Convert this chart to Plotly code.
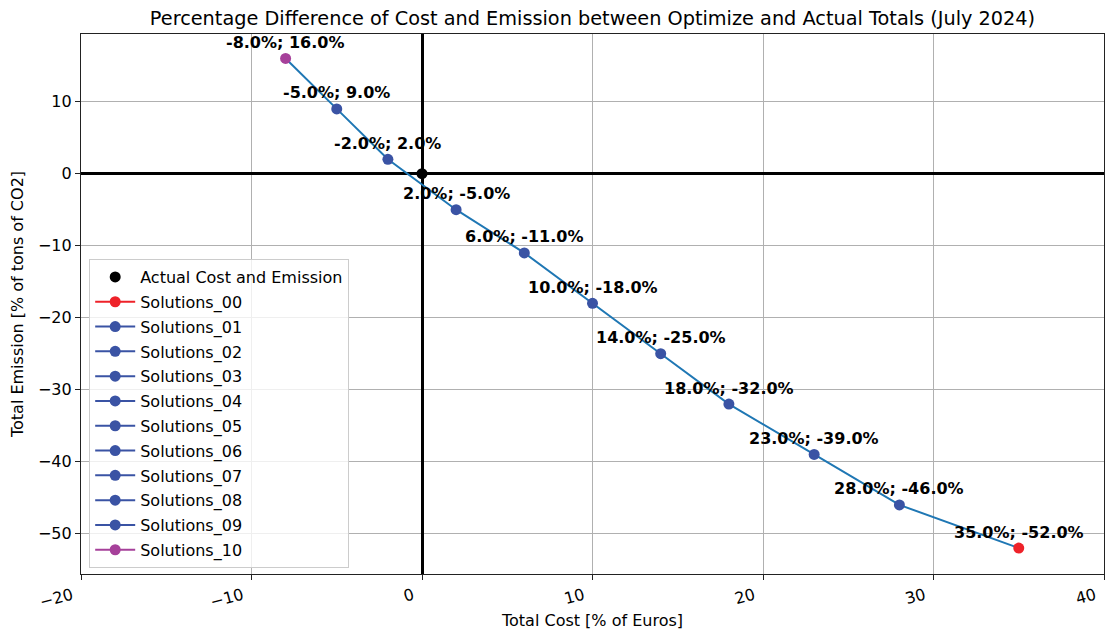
import plotly.graph_objects as go

# Data
solution_names = ["Solutions_00", "Solutions_01", "Solutions_02", "Solutions_03", "Solutions_04",
                  "Solutions_05", "Solutions_06", "Solutions_07", "Solutions_08", "Solutions_09",
                  "Solutions_10"]
cost_pct = [35.0, 28.0, 23.0, 18.0, 14.0, 10.0, 6.0, 2.0, -2.0, -5.0, -8.0]
emission_pct = [-52.0, -46.0, -39.0, -32.0, -25.0, -18.0, -11.0, -5.0, 2.0, 9.0, 16.0]
actual_cost = [0.0]
actual_emission = [0.0]

RED = "#ee2229"
BLUE = "#3a53a4"
PURPLE = "#a6409a"
colors = [RED] + [BLUE] * 9 + [PURPLE]

fig = go.Figure()

# connecting line
fig.add_trace(go.Scatter(x=cost_pct, y=emission_pct, mode="lines",
                         line=dict(color="#1f77b4", width=2), showlegend=False,
                         hoverinfo="skip"))

# actual point
fig.add_trace(go.Scatter(x=actual_cost, y=actual_emission, mode="markers",
                         marker=dict(color="black", size=11),
                         name="Actual Cost and Emission", legendgroup="a"))

for i, name in enumerate(solution_names):
    fig.add_trace(go.Scatter(x=[cost_pct[i]], y=[emission_pct[i]], mode="lines+markers",
                             marker=dict(color=colors[i], size=11),
                             line=dict(color=colors[i], width=2),
                             name=name, legendgroup=name))

for c, e in zip(cost_pct, emission_pct):
    fig.add_annotation(x=c, y=e, text=f"<b>{c:.1f}%; {e:.1f}%</b>", showarrow=False,
                       yshift=16, font=dict(family="DejaVu Sans", size=16, color="black"))

axis_common = dict(showgrid=True, gridcolor="#b0b0b0", gridwidth=1,
                   showline=True, linecolor="#222222", linewidth=1.2, mirror=True,
                   ticks="outside", ticklen=5, tickcolor="#222222",
                   zeroline=True, zerolinecolor="black", zerolinewidth=2.5,
                   automargin=False, ticklabeloverflow="allow",
                   tickfont=dict(family="DejaVu Sans", size=16, color="black"))

fig.update_layout(
    width=1105, height=635,
    plot_bgcolor="white", paper_bgcolor="white",
    margin=dict(l=81, r=1, t=34, b=61),
    font=dict(family="DejaVu Sans", size=16, color="black"),
    title=dict(text="Percentage Difference of Cost and Emission between Optimize and Actual Totals (July 2024)",
               xref="paper", x=0.5, xanchor="center", y=0.9717, yanchor="middle", automargin=False,
               font=dict(family="DejaVu Sans", size=19.3, color="black")),
    xaxis=dict(range=[-20, 40], dtick=10, tickangle=-15, ticklabelshift=-9,
               title=dict(text="Total Cost [% of Euros]", font=dict(size=16), standoff=4),
               **axis_common),
    yaxis=dict(range=[-55.6, 19.4], dtick=10,
               title=dict(text="Total Emission [% of tons of CO2]", font=dict(size=16), standoff=10),
               **axis_common),
    legend=dict(x=0.008, y=0.011, xanchor="left", yanchor="bottom",
                bgcolor="rgba(255,255,255,0.8)", bordercolor="#cccccc", borderwidth=1,
                font=dict(family="DejaVu Sans", size=16), tracegroupgap=1,
                itemwidth=40),
    showlegend=True,
)

fig.write_html("out.html", config={"displayModeBar": False},
               post_script="document.body.style.margin='0';document.body.style.overflow='hidden';")
